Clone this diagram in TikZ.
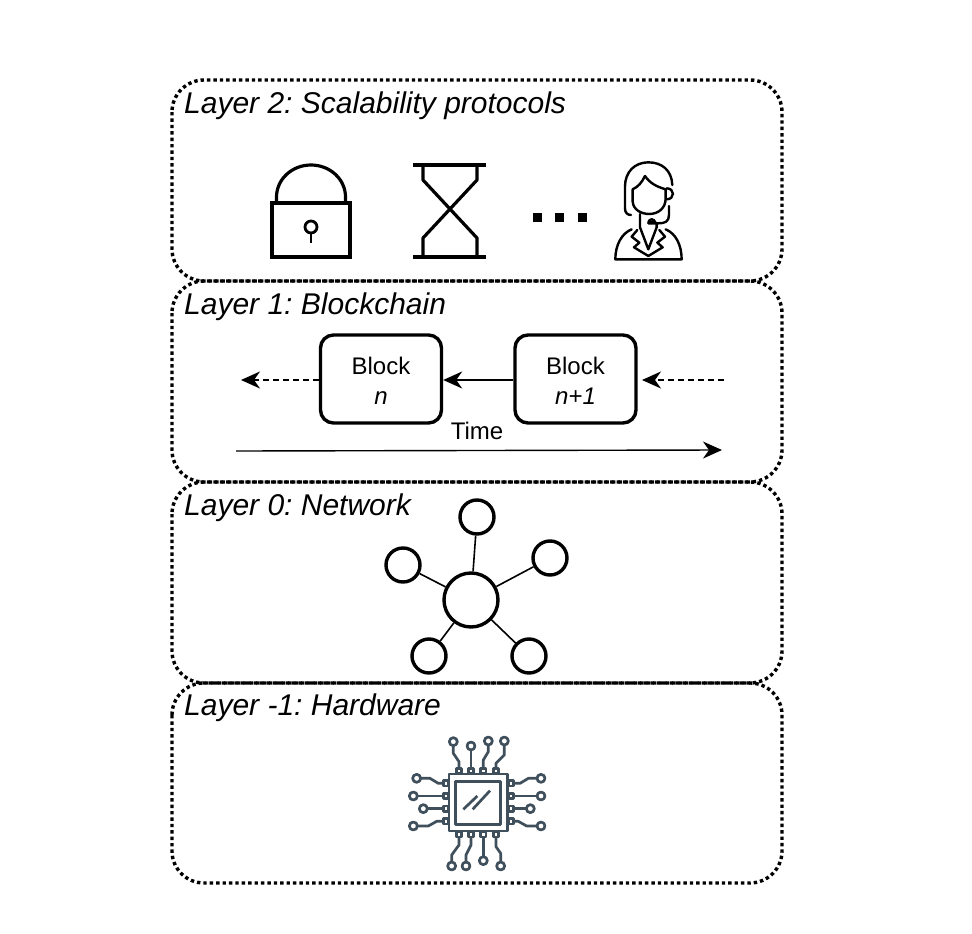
\documentclass[tikz,border=0pt]{standalone}
\usepackage{fontspec}
\setmainfont{Liberation Sans}
\frenchspacing
\usetikzlibrary{arrows.meta,shapes.geometric}
\tikzset{
 layerbox/.style={draw,line width=3.4pt,dash pattern=on 3.4pt off 3pt,rounded corners=32pt},
 layertitle/.style={anchor=base west,inner sep=0pt,font=\fontsize{30}{32}\selectfont\itshape},
 blockbox/.style={draw,line width=3.4pt,rounded corners=13pt,minimum width=121pt,minimum height=88pt,align=center,inner sep=0pt,font=\fontsize{24}{30}\selectfont},
 tip/.style={-{Stealth[length=19pt,width=17pt,inset=6pt]}},
 conn/.style={line width=1.4pt,tip},
 dconn/.style={conn,dash pattern=on 6pt off 4pt},
 hub/.style={circle,draw,line width=3.4pt,minimum size=54pt,inner sep=0pt},
 leaf/.style={circle,draw,line width=3.4pt,minimum size=34pt,inner sep=0pt},
 spoke/.style={line width=1.6pt},
 icon/.style={line width=3.6pt,line join=miter},
 person/.style={line width=2.4pt,line cap=round,line join=round},
 chipl/.style={draw=chipc,line width=2.7pt,line join=round},
}
\definecolor{chipc}{HTML}{3F4F5B}
\begin{document}
\begin{tikzpicture}[x=1pt,y=-1pt]
\useasboundingbox (0,0) rectangle (972,934);
% layers
\draw[layerbox] (172,80) rectangle (782,281);
\draw[layerbox] (172,281) rectangle (782,482);
\draw[layerbox] (172,482) rectangle (782,683);
\draw[layerbox] (172,683) rectangle (782,883);
\node[layertitle] (t2) at (184,113) {Layer 2: Scalability protocols};
\node[layertitle] (t1) at (184,314) {Layer 1: Blockchain};
\node[layertitle] (t0) at (184,515) {Layer 0: Network};
\node[layertitle] (tm) at (184,715) {Layer -1: Hardware};
% lock
\draw[icon] (272,203) rectangle (350,257);
\draw[icon,line width=3.2pt] (276.5,203) -- (276.5,197) arc[start angle=180,end angle=360,x radius=34.5,y radius=32] -- (345.5,203);
\draw[icon,line width=2.8pt] (311,227) circle[radius=6];
\draw[icon,line width=2.8pt] (311,233) -- (311,243);
% hourglass
\draw[icon] (413,165) -- (486,165) (413,257) -- (486,257);
\draw[icon,line width=3.2pt,line join=round] (423,165) -- (423,180) -- (477,238) -- (477,257);
\draw[icon,line width=3.2pt,line join=round] (477,165) -- (477,180) -- (423,238) -- (423,257);
% dots
\fill (533,213) rectangle +(8.5,8.5);
\fill (555,213) rectangle +(8.5,8.5);
\fill (578,213) rectangle +(8.5,8.5);
% person
\begin{scope}[shift={(510,140)},x=0.3333pt,y=-0.3333pt]
\draw[person] (487,135) .. controls (485,90) and (455,67) .. (415,67) .. controls (375,67) and (345,95) .. (345,140) -- (345,205) .. controls (345,218) and (352,225) .. (363,225);
\draw[person] (405,108) .. controls (395,128) and (385,140) .. (368,148) -- (368,185) .. controls (370,210) and (395,222) .. (417,222) .. controls (445,222) and (467,205) .. (467,175) -- (467,148) .. controls (440,140) and (420,130) .. (405,108);
\draw[person] (470,145) .. controls (495,145) and (495,178) .. (470,178);
\draw[person] (477,198) -- (477,225) .. controls (477,245) and (465,250) .. (445,250) -- (415,250);
\draw[person,fill=white] (415,247) .. controls (418,235) and (432,235) .. (436,247) -- cycle;
\draw[person] (390,222) -- (390,262) -- (415,328) -- (440,262) -- (440,252);
\draw[person] (365,268) .. controls (335,280) and (316,315) .. (316,358) -- (515,358) .. controls (515,315) and (497,280) .. (467,268);
\draw[person] (382,270) -- (365,290) -- (388,308) -- (372,322) -- (415,348) -- (458,322) -- (442,308) -- (465,290) -- (448,270);
\end{scope}
% blocks
\node[blockbox] (bn) at (381,379) {\rule{0pt}{21pt}Block\\[0pt]\textit{n}};
\node[blockbox] (bm) at (575.5,379) {\rule{0pt}{21pt}Block\\[0pt]\textit{n+1}};
\coordinate (dl) at (241,380);
\coordinate (dr) at (642,380);
\coordinate (ds) at (724,380);
\coordinate (ts) at (236,451);
\coordinate (te) at (722,450);
\draw[dconn] (bn.west |- dl) -- (dl);
\draw[conn] (bm.west |- dl) -- (bn.east |- dl);
\draw[dconn] (ds) -- (dr);
\draw[conn] (ts) -- (te);
\node[inner sep=0pt,font=\fontsize{24}{30}\selectfont] (time) at (477,431) {Time};
% network
\node[hub] (h) at (471,600) {};
\node[leaf] (a) at (477,517) {};
\node[leaf] (b) at (403,565) {};
\node[leaf] (c) at (550,558) {};
\node[leaf] (d) at (429,656) {};
\node[leaf] (e) at (529,656) {};
\foreach \n in {a,b,c,d,e} \draw[spoke] (h) -- (\n);
% chip
\begin{scope}[shift={(400,730)},x=0.3333pt,y=-0.3333pt]
\draw[chipl] (147,132) rectangle (322,303);
\draw[chipl,line width=3pt] (168,153) rectangle (302,283);
\draw[chipl] (190,238) -- (232,198) (218,238) -- (270,182);
\foreach \x in {177,213,250,288} {
 \draw[chipl,fill=white] (\x-8,115) rectangle (\x+8,130);
 \draw[chipl,fill=white] (\x-8,306) rectangle (\x+8,321);
}
\foreach \y in {160,198,236,274} {
 \draw[chipl,fill=white] (130,\y-8) rectangle (145,\y+8);
 \draw[chipl,fill=white] (325,\y-8) rectangle (340,\y+8);
}
\draw[chipl] (177,115) -- (177,95) -- (160,70) -- (160,47);
\draw[chipl] (213,115) -- (213,60);
\draw[chipl] (250,115) -- (250,90) -- (265,65) -- (265,45);
\draw[chipl] (288,115) -- (288,100) -- (313,75) -- (313,45);
\draw[chipl] (177,321) -- (177,345) -- (155,375) -- (155,396);
\draw[chipl] (213,321) -- (213,345) -- (198,375) -- (198,396);
\draw[chipl] (250,321) -- (250,380);
\draw[chipl] (288,321) -- (288,350) -- (302,370) -- (302,396);
\draw[chipl] (130,160) -- (115,160) -- (90,145) -- (62,145);
\draw[chipl] (130,198) -- (52,198);
\draw[chipl] (130,236) -- (82,236);
\draw[chipl] (130,274) -- (110,274) -- (85,288) -- (52,288);
\draw[chipl] (340,160) -- (360,160) -- (385,145) -- (411,145);
\draw[chipl] (340,198) -- (411,198);
\draw[chipl] (340,236) -- (379,236);
\draw[chipl] (340,274) -- (355,274) -- (380,288) -- (411,288);
\foreach \p in {(160,35),(213,48),(265,33),(313,33),(155,408),(198,408),(250,392),(302,408),(50,145),(40,198),(70,236),(40,288),(423,145),(423,198),(391,236),(423,288)}
 \draw[chipl] \p circle[radius=12];
\end{scope}
\end{tikzpicture}
\end{document}
